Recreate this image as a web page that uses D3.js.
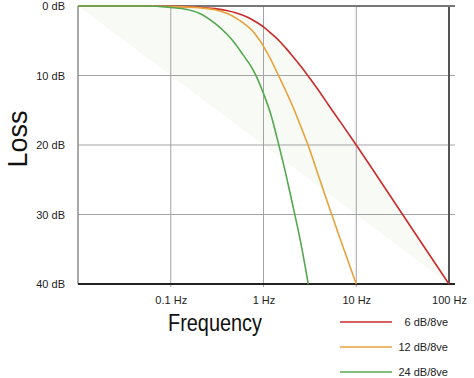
<!DOCTYPE html>
<html>
<head>
<meta charset="utf-8">
<script src="https://cdn.jsdelivr.net/npm/d3@7"></script>
<style>
  body { margin: 0; background: #fff; }
  svg { display: block; font-family: "Liberation Sans", Arial, sans-serif; }
  .axis text { font-size: 11px; fill: #222; }
</style>
</head>
<body>
<svg id="chart"></svg>
<script>
// values
const freqs = [0.01, 0.05, 0.1, 0.15, 0.2, 0.3, 0.4, 0.5, 0.6, 0.75, 0.85, 1, 1.2, 1.5, 1.75, 2, 2.5, 3, 4, 5, 7, 10, 20, 50, 100];
const lossRed = [0, 0, 0.05, 0.1, 0.17, 0.38, 0.65, 0.97, 1.34, 1.94, 2.38, 3.0, 3.9, 5.1, 6.1, 7.0, 8.6, 10.0, 12.3, 14.2, 17.0, 20.0, 26.0, 34.0, 40.0];
const lossOrange = [0, 0, 0.08, 0.15, 0.25, 0.55, 1.05, 1.7, 2.4, 3.5, 4.4, 5.8, 7.7, 10.4, 12.3, 14.0, 17.2, 19.9, 24.8, 28.6, 34.2, 40.0, null, null, null];
const lossGreen = [0, 0, 0.2, 0.5, 1.0, 2.5, 4.0, 5.5, 7.0, 8.9, 10.3, 12.6, 15.6, 20.6, 24.3, 27.8, 33.8, null, null, null, null, null, null, null, null];
const greenEnd = { f: 3.04, db: 40 };

const seriesNames = ['6 dB/8ve', '12 dB/8ve', '24 dB/8ve'];
const seriesColors = ['#cc2b2b', '#e9a23b', '#55a84f'];

const freqTicks = [0.1, 1, 10, 100];
const freqTickLabels = ['0.1 Hz', '1 Hz', '10 Hz', '100 Hz'];
const dbTicks = [0, 10, 20, 30, 40];
const dbTickLabels = ['0 dB', '10 dB', '20 dB', '30 dB', '40 dB'];

const W = 474, H = 378;
const margin = { top: 6, right: 25, bottom: 94, left: 78 };
const width = W - margin.left - margin.right;
const height = H - margin.top - margin.bottom;

const svg = d3.select('#chart').attr('width', W).attr('height', H);
const g = svg.append('g').attr('transform', `translate(${margin.left},${margin.top})`);

const x = d3.scaleLog().domain([0.01, 100]).range([0, width]);
const y = d3.scaleLinear().domain([0, 40]).range([0, height]);

const toPoints = (vals) => freqs.map((f, i) => ({ f, db: vals[i] })).filter((d) => d.db !== null);
const red = toPoints(lossRed);
const orange = toPoints(lossOrange);
const green = toPoints(lossGreen).concat([greenEnd]);

const line = d3.line()
  .x((d) => x(d.f))
  .y((d) => y(d.db))
  .curve(d3.curveMonotoneX);

// faint shaded band between the diagonal and the first-order curve
g.append('path')
  .attr('d', `${line(red.slice().reverse())}L${x(0.01)},${y(0)}Z`)
  .attr('fill', '#f7faf5');

// grid
g.append('g').selectAll('line')
  .data([10, 20, 30])
  .join('line')
  .attr('x1', 0).attr('x2', width + 6)
  .attr('y1', (d) => y(d)).attr('y2', (d) => y(d))
  .attr('stroke', '#a3a3a3').attr('stroke-width', 1);

g.append('g').selectAll('line')
  .data([0.1, 1, 10])
  .join('line')
  .attr('x1', (d) => x(d)).attr('x2', (d) => x(d))
  .attr('y1', 0).attr('y2', height + 3)
  .attr('stroke', '#a3a3a3').attr('stroke-width', 1);

// frame
g.append('line').attr('x1', 0).attr('x2', 0).attr('y1', 0).attr('y2', height)
  .attr('stroke', '#8c8c8c').attr('stroke-width', 1.5);
g.append('line').attr('x1', width).attr('x2', width).attr('y1', 0).attr('y2', height)
  .attr('stroke', '#555').attr('stroke-width', 2);
g.append('line').attr('x1', 0).attr('x2', width + 6).attr('y1', y(0)).attr('y2', y(0))
  .attr('stroke', '#777').attr('stroke-width', 2);
g.append('line').attr('x1', 0).attr('x2', width + 6).attr('y1', y(40)).attr('y2', y(40))
  .attr('stroke', '#222').attr('stroke-width', 2);

// curves
[red, orange, green].forEach((pts, i) => {
  g.append('path')
    .attr('d', line(pts))
    .attr('fill', 'none')
    .attr('stroke', seriesColors[i])
    .attr('stroke-width', 1.6);
});

// axes labels
const yAxis = d3.axisLeft(y)
  .tickValues(dbTicks)
  .tickFormat((d, i) => dbTickLabels[i])
  .tickSize(0)
  .tickPadding(13);
g.append('g').attr('class', 'axis').call(yAxis)
  .call((a) => a.select('.domain').remove());

const xAxis = d3.axisBottom(x)
  .tickValues(freqTicks)
  .tickFormat((d, i) => freqTickLabels[i])
  .tickSize(0)
  .tickPadding(12);
g.append('g').attr('class', 'axis')
  .attr('transform', `translate(0,${height})`)
  .call(xAxis)
  .call((a) => a.select('.domain').remove());

// titles
svg.append('text')
  .attr('x', 215).attr('y', 331)
  .attr('text-anchor', 'middle')
  .attr('font-size', 23)
  .attr('textLength', 94)
  .attr('lengthAdjust', 'spacingAndGlyphs')
  .attr('fill', '#111')
  .text('Frequency');

svg.append('text')
  .attr('transform', 'translate(27,139) rotate(-90)')
  .attr('text-anchor', 'middle')
  .attr('font-size', 28)
  .attr('textLength', 57)
  .attr('lengthAdjust', 'spacingAndGlyphs')
  .attr('fill', '#111')
  .text('Loss');

// legend
const legend = svg.append('g').selectAll('g')
  .data(seriesNames)
  .join('g')
  .attr('transform', (d, i) => `translate(340,${322 + i * 25})`);

legend.append('line')
  .attr('x1', 0).attr('x2', 52)
  .attr('stroke', (d, i) => seriesColors[i])
  .attr('stroke-width', 1.6);

legend.append('text')
  .attr('x', 108).attr('y', 4)
  .attr('text-anchor', 'end')
  .attr('font-size', 11)
  .attr('fill', '#222')
  .text((d) => d);
</script>
</body>
</html>
